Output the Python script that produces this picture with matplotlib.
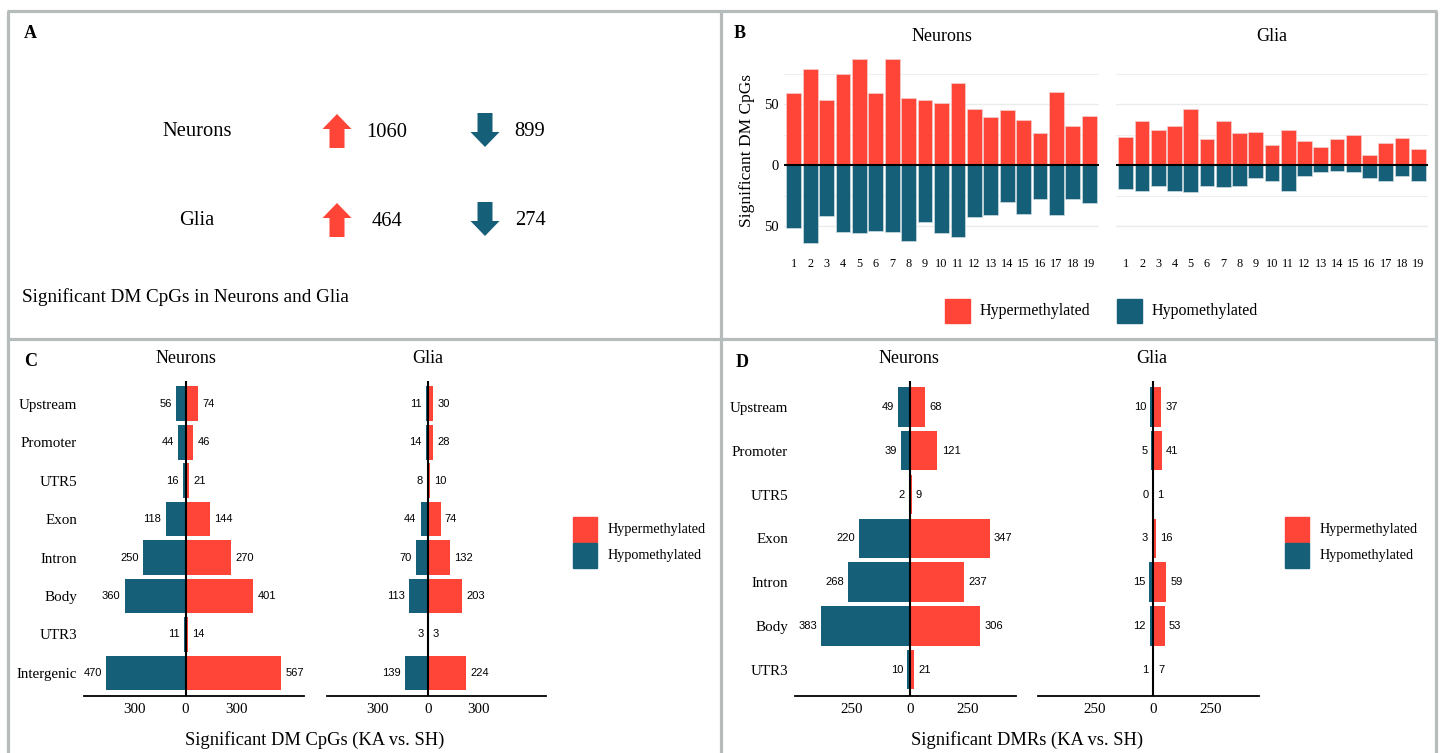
import numpy as np
import matplotlib
matplotlib.use("Agg")
import matplotlib.pyplot as plt
from matplotlib.patches import Rectangle, FancyArrow

# colours
RED = '#FF4538'
BLUE = '#165F79'
BORDER = '#B5BCBB'
SERIF = 'Liberation Serif'
SANS = 'Liberation Sans'

# panel A: totals of significant DM CpGs
groups = ['Neurons', 'Glia']
total_hyper = [1060, 464]
total_hypo = [899, 274]

# panel B: DM CpGs per chromosome
chroms = [str(i) for i in range(1, 20)]
neu_chr_hyper = [59, 79, 53, 75, 87, 59, 87, 55, 53, 51, 67, 46, 39, 45, 37, 26, 60, 32, 40]
neu_chr_hypo = [52, 64, 42, 55, 56, 54, 55, 62, 47, 56, 59, 43, 41, 30, 40, 28, 41, 28, 31]
glia_chr_hyper = [23, 36, 29, 32, 46, 21, 36, 26, 27, 16, 29, 20, 15, 21, 25, 8, 18, 22, 13]
glia_chr_hypo = [20, 21, 17, 21, 22, 17, 18, 17, 11, 13, 21, 9, 6, 5, 6, 11, 13, 9, 13]

# panel C: DM CpGs per genomic feature
c_features = ['Upstream', 'Promoter', 'UTR5', 'Exon', 'Intron', 'Body', 'UTR3', 'Intergenic']
c_neu_hyper = [74, 46, 21, 144, 270, 401, 14, 567]
c_neu_hypo = [56, 44, 16, 118, 250, 360, 11, 470]
c_glia_hyper = [30, 28, 10, 74, 132, 203, 3, 224]
c_glia_hypo = [11, 14, 8, 44, 70, 113, 3, 139]

# panel D: DMRs per genomic feature
d_features = ['Upstream', 'Promoter', 'UTR5', 'Exon', 'Intron', 'Body', 'UTR3']
d_neu_hyper = [68, 121, 9, 347, 237, 306, 21]
d_neu_hypo = [49, 39, 2, 220, 268, 383, 10]
d_glia_hyper = [37, 41, 1, 16, 59, 53, 7]
d_glia_hypo = [10, 5, 0, 3, 15, 12, 1]

W, H = 1440, 753
fig = plt.figure(figsize=(W / 100, H / 100), dpi=100)
fig.patch.set_facecolor('white')


def px_axes(x0, y0, x1, y1):
    return fig.add_axes([x0 / W, 1 - y1 / H, (x1 - x0) / W, (y1 - y0) / H])


# ---------- panel B ----------
def chrom_panel(box, hyper, hypo, title, ylab):
    ax = px_axes(*box)
    x = np.arange(1, len(chroms) + 1)
    ax.bar(x, hyper, width=0.9, color=RED, edgecolor='#f3d0cc', linewidth=0.5, zorder=2)
    ax.bar(x, [-v for v in hypo], width=0.9, color=BLUE, edgecolor='#cfdde2', linewidth=0.5, zorder=2)
    ax.axhline(0, color='black', lw=1.5, zorder=3)
    ax.set_xlim(0.4, len(chroms) + 0.6)
    ax.set_ylim(-67.2, 91.4)
    for g in [-50, -25, 25, 50, 75]:
        ax.axhline(g, color='#EBEBEB', lw=1.0 if g % 50 == 0 else 0.6, zorder=1)
    for s in ax.spines.values():
        s.set_visible(False)
    ax.set_xticks(x)
    ax.set_xticklabels(chroms, fontsize=8.8, family=SERIF)
    ax.tick_params(length=0, pad=8)
    if ylab:
        ax.set_yticks([-50, 0, 50])
        ax.set_yticklabels(['50', '0', '50'], fontsize=10.5, family=SERIF)
        ax.tick_params(axis='y', pad=4)
        ax.set_ylabel('Significant DM CpGs', fontsize=12.5, family=SERIF, labelpad=6)
    else:
        ax.set_yticks([])
    ax.set_title(title, fontsize=13, family=SERIF, pad=9)
    return ax


chrom_panel((784, 53.5, 1099, 247), neu_chr_hyper, neu_chr_hypo, 'Neurons', True)
chrom_panel((1116, 53.5, 1428, 247), glia_chr_hyper, glia_chr_hypo, 'Glia', False)


# ---------- panels C and D ----------
def feature_panel(box, feats, hyper, hypo, xlim, ticks, ylab):
    ax = px_axes(*box)
    y = np.arange(len(feats))[::-1] + 1
    ax.barh(y, hyper, height=0.9, color=RED, zorder=2)
    ax.barh(y, [-v for v in hypo], height=0.9, color=BLUE, zorder=2)
    ax.axvline(0, color='black', lw=1.5, zorder=3)
    for yi, hv, lv in zip(y, hyper, hypo):
        ax.annotate(str(hv), (hv, yi), xytext=(3, 0), textcoords='offset points',
                    ha='left', va='center', fontsize=8, family=SANS)
        ax.annotate(str(lv), (-lv, yi), xytext=(-3, 0), textcoords='offset points',
                    ha='right', va='center', fontsize=8, family=SANS)
    ax.set_xlim(*xlim)
    ax.set_ylim(0.4, len(feats) + 0.6)
    for k in ['top', 'right', 'left']:
        ax.spines[k].set_visible(False)
    ax.spines['bottom'].set_linewidth(1.3)
    ax.set_xticks(ticks)
    ax.set_xticklabels([str(abs(t)) for t in ticks], fontsize=10.8, family=SERIF)
    ax.tick_params(axis='x', length=0, pad=5)
    ax.tick_params(axis='y', length=0, pad=5)
    if ylab:
        ax.set_yticks(y)
        ax.set_yticklabels(feats, fontsize=10.8, family=SERIF)
    else:
        ax.set_yticks([])
    ax.set_facecolor('white')
    return ax


feature_panel((84, 380.7, 304, 696), c_features, c_neu_hyper, c_neu_hypo, (-600, 700), [-300, 0, 300], True)
feature_panel((327, 380.7, 546, 696), c_features, c_glia_hyper, c_glia_hypo, (-600, 700), [-300, 0, 300], False)
feature_panel((795, 380.7, 1016, 696), d_features, d_neu_hyper, d_neu_hypo, (-498, 462), [-250, 0, 250], True)
feature_panel((1038, 380.7, 1259, 696), d_features, d_glia_hyper, d_glia_hypo, (-498, 462), [-250, 0, 250], False)

# ---------- overlay: borders, panel A, titles, legends ----------
ov = fig.add_axes([0, 0, 1, 1])
ov.set_xlim(0, W)
ov.set_ylim(H, 0)
ov.axis('off')
ov.patch.set_visible(False)

bk = dict(color=BORDER, lw=2.3, solid_capstyle='butt')
ov.plot([7, 1437], [11, 11], **bk)
ov.plot([7.5, 7.5], [11, H], **bk)
ov.plot([1436, 1436], [11, H], **bk)
ov.plot([721, 721], [11, H], **bk)
ov.plot([7, 1437], [339, 339], **bk)

for lab, (lx, ly) in zip('ABCD', [(24, 33), (734, 33), (24, 361), (736, 362)]):
    ov.text(lx, ly, lab, fontsize=13, family=SERIF, fontweight='bold', ha='left', va='center')

# panel A
rows_y = [131, 220]
for g, up, dn, ry in zip(groups, total_hyper, total_hypo, rows_y):
    ov.text(197, ry, g, fontsize=14.8, family=SERIF, ha='center', va='center')
    ov.add_patch(FancyArrow(337, ry + 17, 0, -34, width=15, head_width=29, head_length=15,
                            length_includes_head=True, color=RED, lw=0))
    ov.text(387, ry + 1, str(up), fontsize=14.8, family=SERIF, ha='center', va='center')
    ov.add_patch(FancyArrow(485, ry - 18, 0, 34, width=15, head_width=29, head_length=15,
                            length_includes_head=True, color=BLUE, lw=0))
    ov.text(530, ry, str(dn), fontsize=14.8, family=SERIF, ha='center', va='center')
ov.text(22, 297, 'Significant DM CpGs in Neurons and Glia', fontsize=13.8, family=SERIF,
        ha='left', va='center')

# facet titles for C and D
for tx, tt in [(186, 'Neurons'), (428, 'Glia'), (909, 'Neurons'), (1152, 'Glia')]:
    ov.text(tx, 358, tt, fontsize=13, family=SERIF, ha='center', va='center')
ov.text(315, 740, 'Significant DM CpGs (KA vs. SH)', fontsize=13.3, family=SERIF, ha='center', va='center')
ov.text(1027, 740, 'Significant DMRs (KA vs. SH)', fontsize=13.3, family=SERIF, ha='center', va='center')

# legend B (horizontal)
ov.add_patch(Rectangle((945, 299), 25, 24, color=RED))
ov.text(980, 311, 'Hypermethylated', fontsize=11.5, family=SERIF, ha='left', va='center')
ov.add_patch(Rectangle((1117, 299), 25, 24, color=BLUE))
ov.text(1152, 311, 'Hypomethylated', fontsize=11.5, family=SERIF, ha='left', va='center')

# legends C and D (vertical)
for lx in [573, 1285]:
    ov.add_patch(Rectangle((lx, 517), 24, 25, color=RED))
    ov.add_patch(Rectangle((lx, 543), 24, 25, color=BLUE))
    ov.text(lx + 35, 530, 'Hypermethylated', fontsize=10.2, family=SERIF, ha='left', va='center')
    ov.text(lx + 35, 556, 'Hypomethylated', fontsize=10.2, family=SERIF, ha='left', va='center')

fig.savefig('out.png', dpi=100, facecolor='white')
